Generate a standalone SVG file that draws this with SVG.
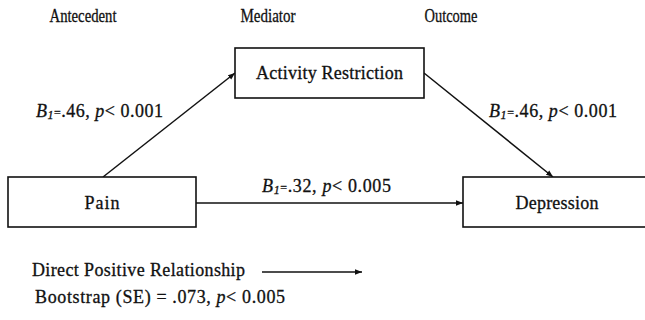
<svg xmlns="http://www.w3.org/2000/svg" width="645" height="320" viewBox="0 0 645 320">
<defs>
<style>
text{font-family:"Liberation Serif","DejaVu Serif",serif;fill:#111;stroke:#111;stroke-width:0.3}
.h{font-size:19px;text-anchor:middle}
.n{font-size:18px;text-anchor:middle}
.l{font-size:18px}
.i{font-style:italic}
.box{fill:#fff;stroke:#111;stroke-width:1.6}
.c{stroke:#111;stroke-width:1.5;fill:none;marker-end:url(#ah)}
</style>
<marker id="ah" viewBox="0 0 10 10" refX="10" refY="5" markerWidth="7" markerHeight="7" markerUnits="userSpaceOnUse" orient="auto">
<path d="M0,1 L10,5 L0,9 Z" fill="#111"/>
</marker>
</defs>
<rect width="645" height="320" fill="#fff"/>
<text class="h" x="83" y="22" textLength="67" lengthAdjust="spacingAndGlyphs">Antecedent</text>
<text class="h" x="268" y="22" textLength="55" lengthAdjust="spacingAndGlyphs">Mediator</text>
<text class="h" x="451" y="22" textLength="53" lengthAdjust="spacingAndGlyphs">Outcome</text>
<g id="connectors">
<line class="c" x1="103" y1="177" x2="235" y2="73"/>
<line class="c" x1="424" y1="73" x2="553" y2="177"/>
<line class="c" x1="196" y1="203" x2="463" y2="203"/>
</g>
<g id="activity-restriction">
<rect class="box" x="235" y="48" width="189" height="50"/>
<text class="n" x="329.5" y="79" textLength="147">Activity Restriction</text>
</g>
<g id="pain">
<rect class="box" x="8" y="177" width="188" height="50"/>
<text class="n" x="102" y="209" textLength="35">Pain</text>
</g>
<g id="depression">
<rect class="box" x="463" y="177" width="190" height="50"/>
<text class="n" x="557" y="209" textLength="83">Depression</text>
</g>
<text class="l" x="36" y="117" textLength="127"><tspan class="i">B</tspan><tspan class="i" font-size="12" dy="2">1</tspan><tspan font-size="12" dy="-2">=</tspan>.46, <tspan class="i">p</tspan>&lt; 0.001</text>
<text class="l" x="489" y="117" textLength="128"><tspan class="i">B</tspan><tspan class="i" font-size="12" dy="2">1</tspan><tspan font-size="12" dy="-2">=</tspan>.46, <tspan class="i">p</tspan>&lt; 0.001</text>
<text class="l" x="262" y="192" textLength="129"><tspan class="i">B</tspan><tspan class="i" font-size="12" dy="2">1</tspan><tspan font-size="12" dy="-2">=</tspan>.32, <tspan class="i">p</tspan>&lt; 0.005</text>
<text class="l" x="32" y="276" textLength="213">Direct Positive Relationship</text>
<line class="c" x1="262" y1="272" x2="362" y2="272"/>
<text class="l" x="35" y="303" textLength="250">Bootstrap (SE) = .073, <tspan class="i">p</tspan>&lt; 0.005</text>
</svg>
